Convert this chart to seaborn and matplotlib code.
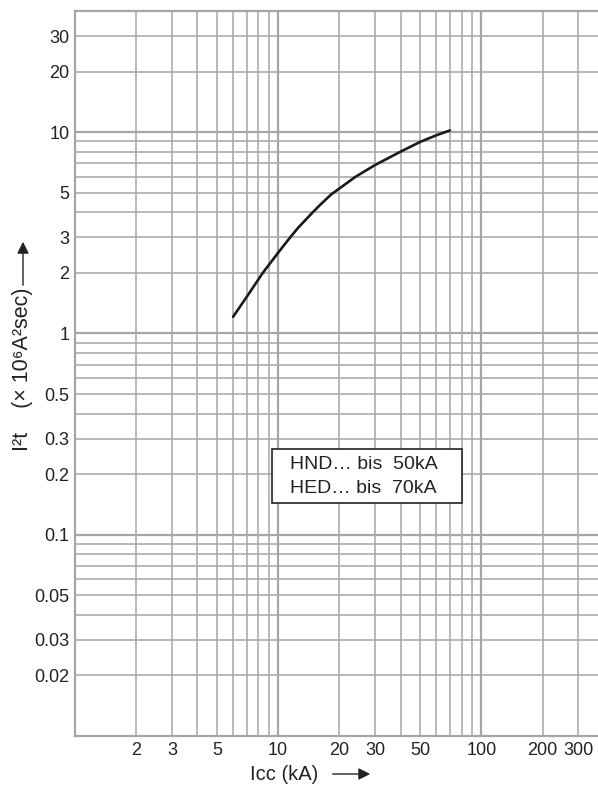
import numpy as np
import matplotlib
matplotlib.use("Agg")
import matplotlib.pyplot as plt
from matplotlib.patches import Rectangle, FancyArrowPatch
import seaborn as sns
import pandas as pd

# curve (Icc in kA, I2t in 10^6 A2s)
icc = [6, 7, 8.4, 10, 11.3, 12.5, 14.8, 16, 18.2, 20, 24, 30, 40, 50, 60, 70]
i2t = [1.21, 1.52, 2.0, 2.52, 2.95, 3.34, 4.0, 4.33, 4.9, 5.25, 6.0, 6.87, 8.0, 8.95, 9.65, 10.2]

x_labels = [2, 3, 5, 10, 20, 30, 50, 100, 200, 300]
y_labels = [0.02, 0.03, 0.05, 0.1, 0.2, 0.3, 0.5, 1, 2, 3, 5, 10, 20, 30]
x_grid = [2, 3, 4, 5, 6, 7, 8, 9, 10, 20, 30, 40, 50, 60, 70, 80, 90, 100, 200, 300]
y_grid = [0.02, 0.03, 0.04, 0.05, 0.06, 0.07, 0.08, 0.09,
          0.1, 0.2, 0.3, 0.4, 0.5, 0.6, 0.7, 0.8, 0.9,
          1, 2, 3, 4, 5, 6, 7, 8, 9, 10, 20, 30]
decades_x = [10, 100]
decades_y = [0.1, 1, 10]

legend_lines = ["HND\u2026 bis  50kA", "HED\u2026 bis  70kA"]

sns.set_theme(style="white")
plt.rcParams['font.family'] = ['Liberation Sans', 'DejaVu Sans']

grid_c = "#a6a6a6"
txt_c = "#222222"
fs = 13

fig = plt.figure(figsize=(5.98, 7.85), dpi=100)
ax = fig.add_axes([75 / 598, 49 / 785, 1 - 75 / 598, 725 / 785])
ax.set_xscale("log")
ax.set_yscale("log")
ax.set_xlim(1, 375)
ax.set_ylim(0.01, 40)

for v in x_grid:
    ax.axvline(v, color=grid_c, lw=1.6 if v in decades_x else 1.1, zorder=1)
for v in y_grid:
    ax.axhline(v, color=grid_c, lw=1.6 if v in decades_y else 1.1, zorder=1)

df = pd.DataFrame({"icc": icc, "i2t": i2t})
sns.lineplot(data=df, x="icc", y="i2t", ax=ax, color="#1a1a1a", lw=1.9, zorder=3)

ax.set_xticks(x_labels)
ax.set_xticklabels([str(v) for v in x_labels])
ax.set_yticks(y_labels)
ax.set_yticklabels([("%g" % v) for v in y_labels])
ax.minorticks_off()
ax.tick_params(length=0, labelsize=fs, labelcolor=txt_c)
ax.tick_params(axis="x", pad=4)
ax.tick_params(axis="y", pad=4)
ax.set_xlabel("")
ax.set_ylabel("")

for s in ["left", "top", "bottom"]:
    ax.spines[s].set_color(grid_c)
    ax.spines[s].set_linewidth(1.6)
ax.spines["right"].set_visible(False)

# legend box
ax.add_patch(Rectangle((0.377, 0.321), 0.363, 0.075, transform=ax.transAxes,
                       facecolor="white", edgecolor=txt_c, lw=1.2, zorder=4))
ax.text(0.412, 0.375, legend_lines[0], transform=ax.transAxes, fontsize=14,
        va="center", ha="left", color=txt_c, zorder=5)
ax.text(0.412, 0.341, legend_lines[1], transform=ax.transAxes, fontsize=14,
        va="center", ha="left", color=txt_c, zorder=5)

# axis titles with arrows
fig.text(250 / 598, 1 - 774 / 785, "Icc (kA)", fontsize=14.5, ha="left", va="center",
         color=txt_c)
fig.add_artist(FancyArrowPatch(
    (330 / 598, 1 - 774 / 785), (373 / 598, 1 - 774 / 785), transform=fig.transFigure,
    arrowstyle="-|>,head_length=7,head_width=3.5", color=txt_c, lw=1.0))

fig.text(23 / 598, 1 - 288 / 785, "I\u00b2t    (\u00d7 10\u2076A\u00b2sec)", fontsize=15.5,
         ha="center", va="top", rotation=90, color=txt_c)
fig.add_artist(FancyArrowPatch(
    (23 / 598, 1 - 288 / 785), (23 / 598, 1 - 239 / 785), transform=fig.transFigure,
    arrowstyle="-|>,head_length=7,head_width=3.5", color=txt_c, lw=1.0))

fig.savefig("out.png", dpi=100)
